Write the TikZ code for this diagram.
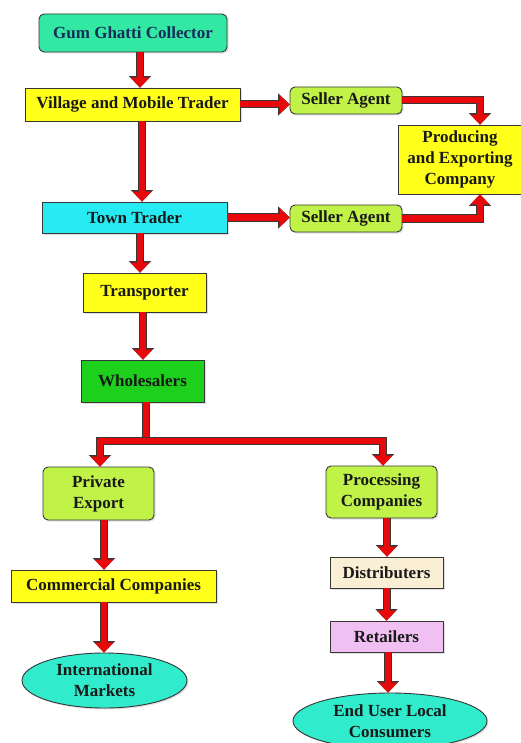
\documentclass[tikz,border=0pt]{standalone}
\usepackage{fontspec}
\setmainfont{Liberation Serif}
\usetikzlibrary{arrows.meta,shapes.geometric,shadows}

\definecolor{gumgreen}{RGB}{50,232,162}
\definecolor{gumtext}{RGB}{22,45,92}
\definecolor{boxyellow}{RGB}{255,255,25}
\definecolor{agentgreen}{RGB}{192,242,72}
\definecolor{towncyan}{RGB}{40,234,242}
\definecolor{wholegreen}{RGB}{28,208,28}
\definecolor{distbeige}{RGB}{250,239,212}
\definecolor{retailpink}{RGB}{240,192,242}
\definecolor{markturq}{RGB}{48,236,204}
\definecolor{flowred}{RGB}{232,10,10}
\definecolor{edgegray}{RGB}{55,55,55}

\tikzset{
  box/.style={draw=edgegray, line width=.9pt, inner sep=0pt, align=center,
    text=black!90, font=\bfseries\fontsize{17}{21}\selectfont,
    drop shadow={opacity=.25, shadow xshift=1.5pt, shadow yshift=-1.5pt}},
  roundbox/.style={box, rounded corners=5pt},
  oval/.style={box, ellipse},
  flow/.style={draw=flowred, line width=6pt, line join=miter,
    -{Triangle[length=10pt,width=19pt,line width=.1pt]},
    preaction={draw=edgegray, line width=8pt, line join=miter,
      -{Triangle[length=11.5pt,width=22pt,line width=.1pt]}}},
  link/.style={draw=flowred, line width=6pt, line join=miter,
    preaction={draw=edgegray, line width=8pt}},
}

\begin{document}
\begin{tikzpicture}[x=1pt,y=-1pt]
\useasboundingbox (0,0) rectangle (520,743);

% upper chain
\node[roundbox, fill=gumgreen, text=gumtext, minimum width=188pt, minimum height=38pt] (collector) at (133,33) {Gum Ghatti Collector};
\node[box, fill=boxyellow, minimum width=215pt, minimum height=33pt] (village) at (132.5,104.5) {Village and Mobile Trader};
\node[roundbox, fill=agentgreen, minimum width=112pt, minimum height=27pt] (agentA) at (346,100.5) {Seller Agent};
\node[box, fill=boxyellow, minimum width=124pt, minimum height=69pt] (company) at (460,159.5) {Producing\\and Exporting\\Company};
\node[box, fill=towncyan, minimum width=185pt, minimum height=31pt] (town) at (134.5,217.5) {Town Trader};
\node[roundbox, fill=agentgreen, minimum width=112pt, minimum height=27pt] (agentB) at (346,218.5) {Seller Agent};
\node[box, fill=boxyellow, minimum width=123pt, minimum height=39pt] (transport) at (144.5,292.5) {Transporter};
\node[box, fill=wholegreen, minimum width=123pt, minimum height=42pt] (wholesale) at (142.5,381) {Wholesalers};

% left branch
\node[roundbox, fill=agentgreen, minimum width=111pt, minimum height=53pt] (private) at (98.5,493.5) {Private\\Export};
\node[box, fill=boxyellow, minimum width=205pt, minimum height=32pt] (commercial) at (113.5,586) {Commercial Companies};
\node[oval, fill=markturq, minimum width=165pt, minimum height=55pt] (intl) at (104.5,680.5) {International\\Markets};

% right branch
\node[roundbox, fill=agentgreen, minimum width=111pt, minimum height=52pt] (processing) at (381.5,492) {Processing\\Companies};
\node[box, fill=distbeige, minimum width=113pt, minimum height=31pt] (distrib) at (386.5,572.5) {Distributers};
\node[box, fill=retailpink, minimum width=113pt, minimum height=31pt] (retail) at (386.5,636.5) {Retailers};
\node[oval, fill=markturq, minimum width=194pt, minimum height=56pt] (enduser) at (390,721) {End User Local\\Consumers};

\coordinate (split) at (146,441);

% connectors
\draw[flow] ([xshift=7pt]collector.south) -- ([xshift=7pt]collector.south |- village.north);
\draw[flow] (village.east) -- (village.east -| agentA.west);
\draw[flow] (agentA.east) -| ([xshift=20pt]company.north);
\draw[flow] ([xshift=9.5pt]village.south) -- ([xshift=9.5pt]village.south |- town.north);
\draw[flow] (town.east) -- (town.east -| agentB.west);
\draw[flow] (agentB.east) -| ([xshift=20pt]company.south);
\draw[flow] ([xshift=5.5pt]town.south) -- ([xshift=5.5pt]town.south |- transport.north);
\draw[flow] ([xshift=-1.5pt]transport.south) -- ([xshift=-1.5pt]transport.south |- wholesale.north);
\draw[link] ([xshift=3.5pt]wholesale.south) -- (split);
\draw[flow] (split) -| ([xshift=1.5pt]private.north);
\draw[flow] (split) -| ([xshift=1.5pt]processing.north);
\draw[flow] ([xshift=5.5pt]private.south) -- ([xshift=5.5pt]private.south |- commercial.north);
\draw[flow] ([xshift=-9.5pt]commercial.south) -- ([xshift=-9.5pt]commercial.south |- intl.north);
\draw[flow] ([xshift=5.5pt]processing.south) -- ([xshift=5.5pt]processing.south |- distrib.north);
\draw[flow] (distrib.south) -- (distrib.south |- retail.north);
\draw[flow] ([xshift=1.5pt]retail.south) -- ([xshift=1.5pt]retail.south |- enduser.north);
\end{tikzpicture}
\end{document}
